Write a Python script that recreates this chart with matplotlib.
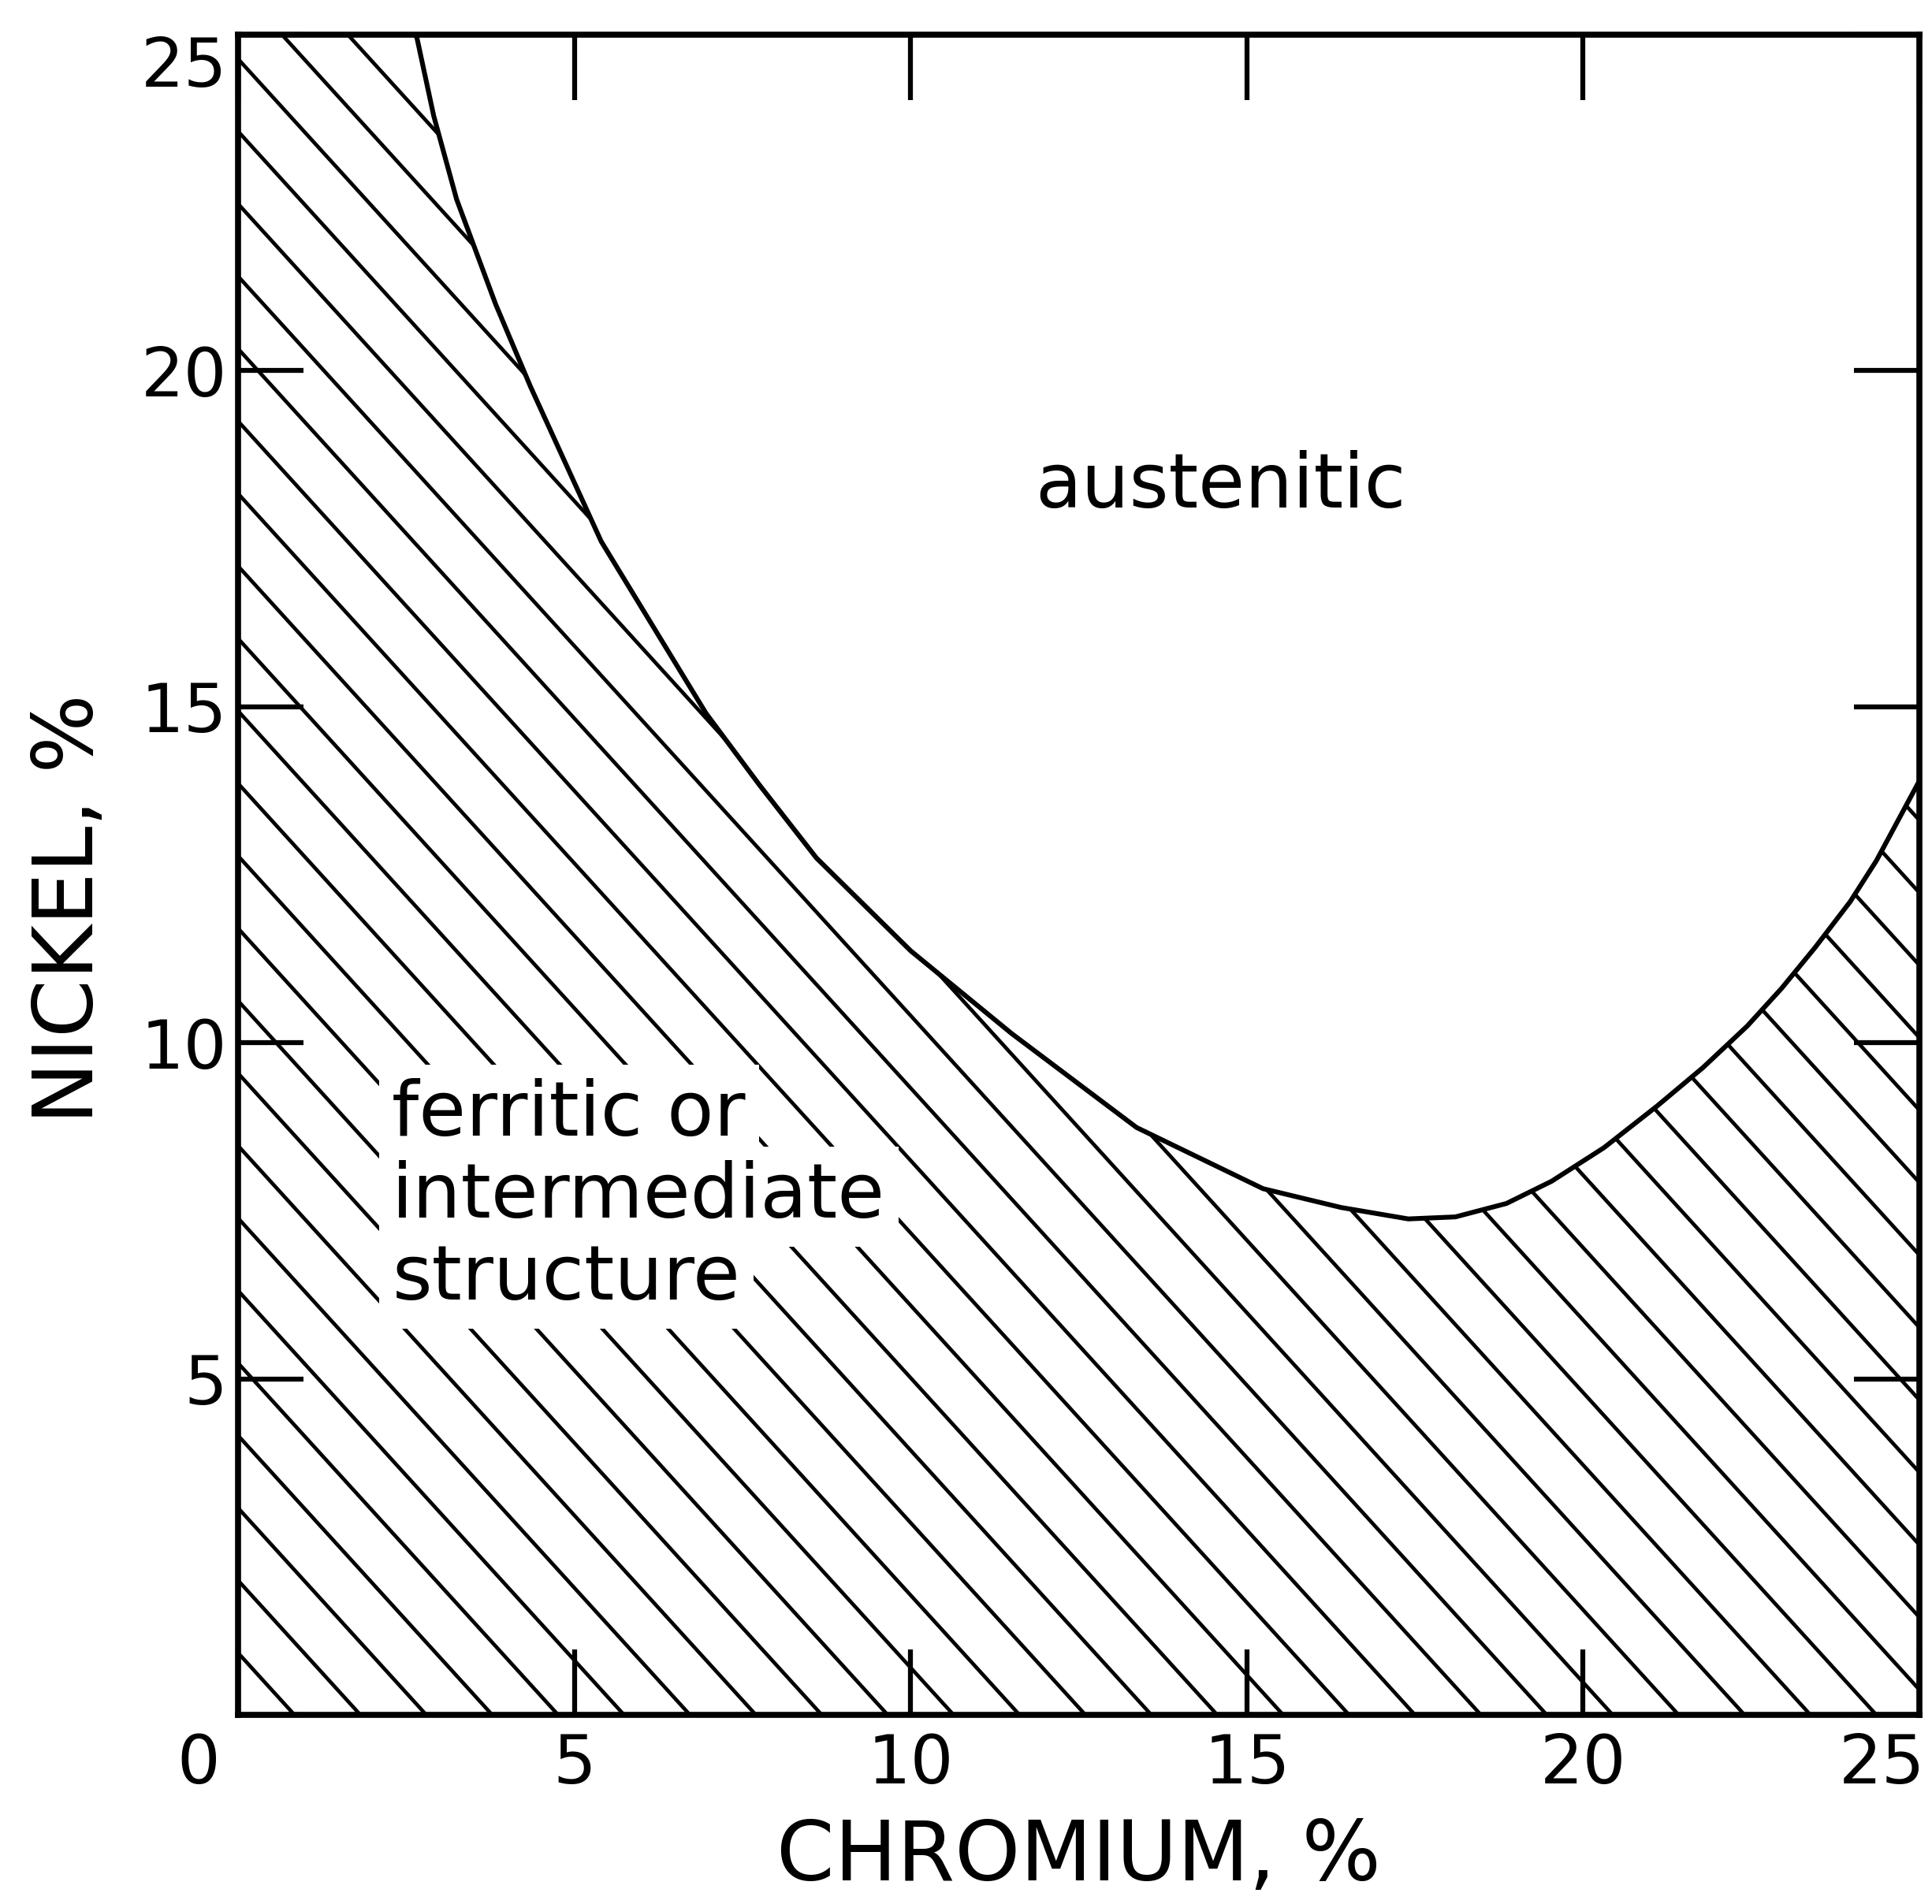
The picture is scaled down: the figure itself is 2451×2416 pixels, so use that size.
import numpy as np
import matplotlib
matplotlib.use('Agg')
import matplotlib.pyplot as plt
from matplotlib.patches import Polygon
from matplotlib.transforms import ScaledTranslation

# boundary between the austenitic field and the ferritic / intermediate field
chromium = [2.65, 2.91, 3.25, 3.83, 4.35, 5.40, 6.96, 7.75, 8.60, 10.0, 11.5, 13.36,
            15.24, 16.40, 17.40, 18.10, 18.86, 19.53, 20.31, 21.10, 21.78, 22.44,
            22.95, 23.45, 23.97, 24.36, 25.0]
nickel = [25.0, 23.79, 22.55, 20.99, 19.76, 17.46, 14.90, 13.84, 12.75, 11.37, 10.14, 8.74,
          7.83, 7.55, 7.38, 7.41, 7.61, 7.94, 8.44, 9.06, 9.63, 10.25,
          10.81, 11.42, 12.10, 12.71, 13.9]

ticks = [0, 5, 10, 15, 20, 25]
xlabels = ['0', '5', '10', '15', '20', '25']
ylabels = ['', '5', '10', '15', '20', '25']

region_lines = ['ferritic or', 'intermediate', 'structure']

DPI = 100
plt.rcParams['font.family'] = 'DejaVu Sans'

fig = plt.figure(figsize=(24.51, 24.16), dpi=DPI)
ax = fig.add_axes([0.1232, 0.0993, 0.8703, 0.8825])
ax.set_xlim(0, 25)
ax.set_ylim(0, 25)

# hatched region below / left of the boundary
outline = [(0, 0), (0, 25)] + list(zip(chromium, nickel)) + [(25, 0)]
region = Polygon(outline, closed=True, fill=False, lw=0)
ax.add_patch(region)

slope = 1.1
step = 0.98
offset = 0.84
for c in np.arange(offset, 60, step):
	xs = [c - 26 / slope, c]
	ys = [slope * (c - x) for x in xs]
	ln, = ax.plot(xs, ys, color='black', lw=3.4, solid_capstyle='butt')
	ln.set_clip_path(region)

ax.plot(chromium, nickel, color='black', lw=4.4, solid_joinstyle='round')

ax.text(11.85, 17.96, 'austenitic', fontsize=69, va='baseline', ha='left')
for i, txt in enumerate(region_lines):
	ax.text(2.29, 8.62 - 1.22 * i, txt, fontsize=70, va='baseline', ha='left',
		bbox=dict(facecolor='white', edgecolor='none', pad=12))

for s in ax.spines.values():
	s.set_linewidth(5.5)

ax.set_xticks(ticks)
ax.set_xticklabels(xlabels)
ax.set_yticks(ticks)
ax.set_yticklabels(ylabels)
ax.tick_params(direction='in', length=60, width=4.5, top=True, right=True,
	labelsize=62, color='black')
ax.tick_params(axis='x', pad=16)
ax.tick_params(axis='y', pad=10)

# the corner labels sit inside the frame corners
def shift(label, dx, dy):
	label.set_transform(label.get_transform() + ScaledTranslation(dx / DPI, dy / DPI, fig.dpi_scale_trans))

xt = ax.get_xticklabels()
shift(xt[0], -50, 0)
shift(xt[-1], -48, 0)
yt = ax.get_yticklabels()
shift(yt[-1], 0, -34)

ax.set_xlabel('CHROMIUM, %', fontsize=76, labelpad=18)
ax.set_ylabel('NICKEL, %', fontsize=76)
ax.yaxis.set_label_coords(-0.076, 0.48)

fig.savefig('out.png', dpi=DPI, facecolor='white')
